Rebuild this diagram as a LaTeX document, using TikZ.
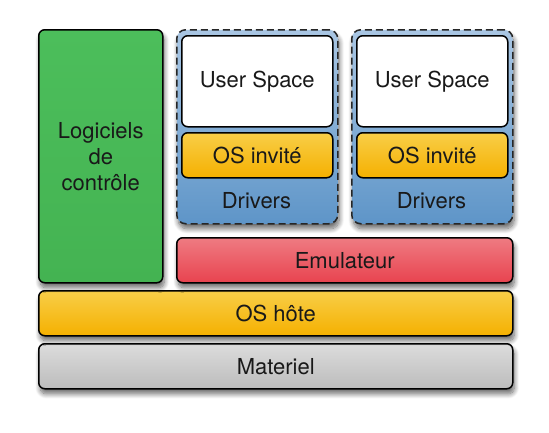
\documentclass[tikz,border=0pt]{standalone}
\usepackage{fontspec}
\setmainfont{TeX Gyre Heros}
\usetikzlibrary{shadows.blur}
\definecolor{vert}{HTML}{4CBE5B}
\definecolor{vertbas}{HTML}{44B352}
\definecolor{orhaut}{HTML}{F8CE48}
\definecolor{orbas}{HTML}{F5B000}
\definecolor{rougehaut}{HTML}{EF7B82}
\definecolor{rougebas}{HTML}{E8434F}
\definecolor{grishaut}{HTML}{DCDCDC}
\definecolor{grisbas}{HTML}{BCBCBC}
\definecolor{bleuhaut}{HTML}{A9C6E3}
\definecolor{bleubas}{HTML}{5E95C8}
\begin{document}
\begin{tikzpicture}[x=1pt,y=-1pt,
  every node/.style={font=\fontsize{22}{26}\selectfont, inner sep=0pt, text=black!90},
  ombre/.style={blur shadow={shadow xshift=1.5pt, shadow yshift=-5pt, shadow blur steps=10, shadow blur radius=5pt, shadow opacity=60}},
  couche/.style={draw=black, line width=1.5pt, rounded corners=6pt, anchor=north west, ombre},
  vm/.style={draw=black!85, line width=1.5pt, dash pattern=on 7pt off 4pt, rounded corners=9pt,
    anchor=north west, minimum width=161pt, minimum height=194pt, top color=bleuhaut, bottom color=bleubas, ombre},
  userbox/.style={draw=black, line width=1.5pt, rounded corners=6pt, anchor=north west, fill=white,
    minimum width=151pt, minimum height=91pt},
  osbox/.style={draw=black, line width=1.5pt, rounded corners=6pt, anchor=north west,
    top color=orhaut, bottom color=orbas, minimum width=151pt, minimum height=45pt}]
\useasboundingbox (0,0) rectangle (549,432);

% pile materielle
\node[couche, minimum width=474pt, minimum height=45pt, top color=grishaut, bottom color=grisbas] (materiel) at (38,343) {Materiel};
\node[couche, minimum width=474pt, minimum height=45pt, top color=orhaut, bottom color=orbas] (oshote) at (38,290) {OS hôte};
\node[couche, minimum width=336pt, minimum height=45pt, top color=rougehaut, bottom color=rougebas] (emul) at (176,237) {Emulateur};
\node[couche, minimum width=124pt, minimum height=253pt, top color=vert, bottom color=vertbas, align=center] (logiciels) at (38,29) {Logiciels\\de\\contrôle};

% machines virtuelles
\node[vm] (vma) at (176,29) {};
\node[vm] (vmb) at (351,29) {};
\node[userbox] (usera) at (181,35) {User Space};
\node[userbox] (userb) at (356,35) {User Space};
\node[osbox] (osa) at (181,132) {OS invité};
\node[osbox] (osb) at (356,132) {OS invité};
\node (drva) at (256.5,201) {Drivers};
\node (drvb) at (431.5,201) {Drivers};
\end{tikzpicture}
\end{document}
